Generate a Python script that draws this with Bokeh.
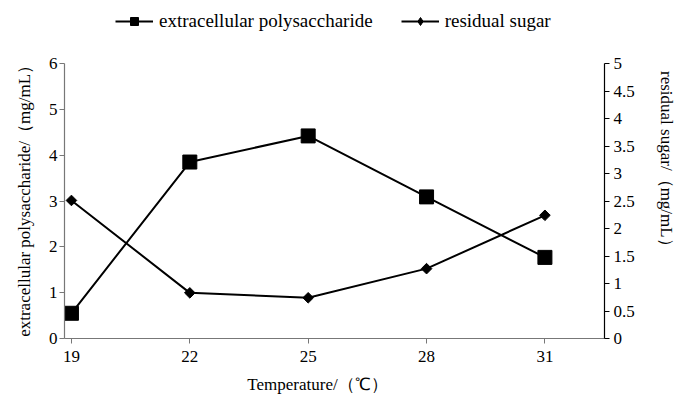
import math
from bokeh.plotting import figure
from bokeh.models import Range1d, LinearAxis, FixedTicker, Legend, LegendItem, CustomJSTickFormatter
from bokeh.embed import file_html
from bokeh.resources import INLINE

temperature = [19, 22, 25, 28, 31]
polysaccharide = [0.55, 3.85, 4.42, 3.09, 1.77]
residual_sugar = [2.51, 0.83, 0.74, 1.27, 2.24]
x_ticks = [19, 22, 25, 28, 31]
left_ticks = [0, 1, 2, 3, 4, 5, 6]
right_ticks = [0, 0.5, 1, 1.5, 2, 2.5, 3, 3.5, 4, 4.5, 5]

FONT = "'Liberation Serif', serif"
NB = "\u00a0"

# frame extends above the axes' top (6 / 5) so the legend fits inside it
p = figure(width=678, height=402, output_backend="svg", toolbar_location=None,
           x_range=Range1d(18.824, 32.51), y_range=Range1d(0, 7.2),
           min_border_left=64, min_border_right=70, min_border_top=8, min_border_bottom=64)
p.extra_y_ranges = {"sugar": Range1d(0, 6.0)}
p.outline_line_color = None
p.xgrid.visible = False
p.ygrid.visible = False
p.background_fill_color = "white"

def style_axis(ax, line_color, label_size):
    ax.axis_line_color = line_color
    ax.major_tick_line_color = line_color
    ax.minor_tick_line_color = None
    ax.major_tick_out = 5
    ax.major_tick_in = 0
    ax.major_label_text_font = FONT
    ax.major_label_text_font_size = "17px"
    ax.major_label_text_color = "black"
    ax.axis_label_text_font = FONT
    ax.axis_label_text_font_size = label_size
    ax.axis_label_text_font_style = "normal"
    ax.axis_label_text_color = "black"
    ax.axis_line_width = 1.2

xa = p.xaxis[0]
xa.ticker = FixedTicker(ticks=x_ticks)
xa.axis_label = "Temperature/（℃）" + NB * 8
style_axis(xa, "#777777", "17px")
xa.major_label_standoff = 7
xa.axis_label_standoff = 10

ya = p.yaxis[0]
ya.ticker = FixedTicker(ticks=left_ticks)
ya.bounds = (0, 6)
ya.axis_label = "extracellular polysaccharide/（mg/mL）" + NB * 11
style_axis(ya, "#777777", "17px")
ya.major_label_standoff = 2
ya.axis_label_standoff = 12

ra = LinearAxis(y_range_name="sugar", ticker=FixedTicker(ticks=right_ticks), bounds=(0, 5),
                formatter=CustomJSTickFormatter(code="return tick.toString();"))
ra.axis_label = "residual sugar/（mg/mL）" + NB * 5
style_axis(ra, "black", "17px")
ra.major_label_standoff = 4
ra.axis_label_standoff = 19
p.add_layout(ra, "right")

l1 = p.line(temperature, polysaccharide, line_color="black", line_width=2)
s1 = p.scatter(temperature, polysaccharide, marker="square", size=14, fill_color="black", line_color="black")
l2 = p.line(temperature, residual_sugar, y_range_name="sugar", line_color="black", line_width=2)
s2 = p.scatter(temperature, residual_sugar, y_range_name="sugar", marker="square", angle=math.pi / 4,
               size=7.5, fill_color="black", line_color="black")
# legend-only diamond glyph (same data, hidden in plot)
s2_key = p.scatter(temperature, residual_sugar, y_range_name="sugar", marker="diamond", size=11,
                   fill_color="black", line_color="black", visible=False)

legend = Legend(items=[LegendItem(label="extracellular polysaccharide", renderers=[l1, s1]),
                       LegendItem(label="residual sugar", renderers=[l2, s2_key])],
                orientation="horizontal", location=(51, 306),
                label_text_font=FONT, label_text_font_size="19px", label_text_color="black",
                glyph_width=38, glyph_height=20, label_height=20, label_standoff=6,
                spacing=28, padding=0, margin=0, border_line_color=None,
                background_fill_alpha=0)
p.add_layout(legend, "center")

open("out.html", "w").write(file_html(p, INLINE))
